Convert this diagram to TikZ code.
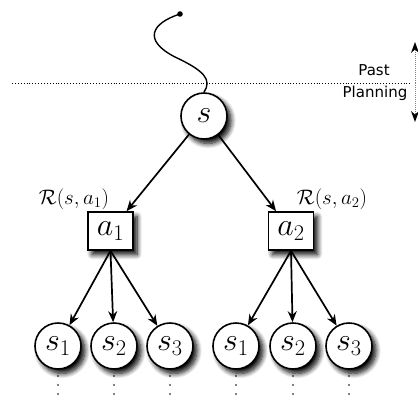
\RequirePackage{fix-cm}
\documentclass[tikz,border=0pt]{standalone}
\usepackage{fontspec}
\newfontfamily\dejavu{DejaVu Sans}
\usetikzlibrary{arrows.meta,shadows.blur}
\begin{document}
\begin{tikzpicture}[x=1pt,y=-1pt,
  conn/.style={line width=1.7pt,-{Stealth[length=11pt,width=9pt]}},
  shad/.style={blur shadow={shadow xshift=4pt,shadow yshift=-4.5pt,shadow blur radius=5pt,shadow opacity=100,shadow blur steps=8}},
  state/.style={circle,draw,line width=1.6pt,fill=white,minimum size=46pt,inner sep=0pt,
    font=\fontsize{32}{36}\selectfont,shad},
  act/.style={rectangle,draw,line width=1.6pt,fill=white,minimum width=45pt,minimum height=38pt,inner sep=0pt,
    font=\fontsize{32}{36}\selectfont,shad},
  rew/.style={font=\fontsize{21}{24}\selectfont,inner sep=0pt},
  lbl/.style={font=\dejavu\fontsize{15}{18}\selectfont,inner sep=0pt},
  vdot/.style={circle,fill=black,inner sep=0pt,minimum size=1.8pt}]
\useasboundingbox (0,0) rectangle (418,397);
% past / planning divider
\coordinate (hl) at (12,83);
\coordinate (hr) at (412,83);
\draw[dotted,line width=0.9pt] (hl) -- (hr);
\coordinate (vm) at (415,83);
\coordinate (vt) at (415,42);
\coordinate (vb) at (415,122);
\draw[densely dotted,gray,line width=1pt,-{Stealth[black,length=11pt,width=8pt]}] (vm) -- (vt);
\draw[densely dotted,gray,line width=1pt,-{Stealth[black,length=11pt,width=8pt]}] (vm) -- (vb);
\node[lbl] (past) at (374,70) {Past};
\node[lbl] (plan) at (375,93) {Planning};
% nodes
\node[state] (s) at (204,116) {$s$};
\node[act] (a1) at (110.5,231) {$a_1$};
\node[act] (a2) at (291,231) {$a_2$};
\node[rew] (r1) at (74,199) {$\mathcal{R}(s,a_1)$};
\node[rew] (r2) at (332,199) {$\mathcal{R}(s,a_2)$};
\foreach \n/\x/\t in {l1/58/s_1,l2/114/s_2,l3/170/s_3,l4/236/s_1,l5/293/s_2,l6/349/s_3}{
  \node[state] (\n) at (\x,346) {$\t$};
  \node[vdot] at (\x,376) {};
  \node[vdot] at (\x,385) {};
  \node[vdot] at (\x,394) {};
}
% history curve
\coordinate (h0) at (180,14);
\fill (h0) circle (2.8pt);
\draw[line width=1.4pt] (h0) .. controls (152,23) and (142,40) .. (175,57)
  .. controls (205,71) and (212,80) .. (s.north);
% edges
\draw[conn] (s) -- (a1);
\draw[conn] (s) -- (a2);
\draw[conn] (a1.south) -- (l1);
\draw[conn] (a1.south) -- (l2);
\draw[conn] (a1.south) -- (l3);
\draw[conn] (a2.south) -- (l4);
\draw[conn] (a2.south) -- (l5);
\draw[conn] (a2.south) -- (l6);
\end{tikzpicture}
\end{document}
